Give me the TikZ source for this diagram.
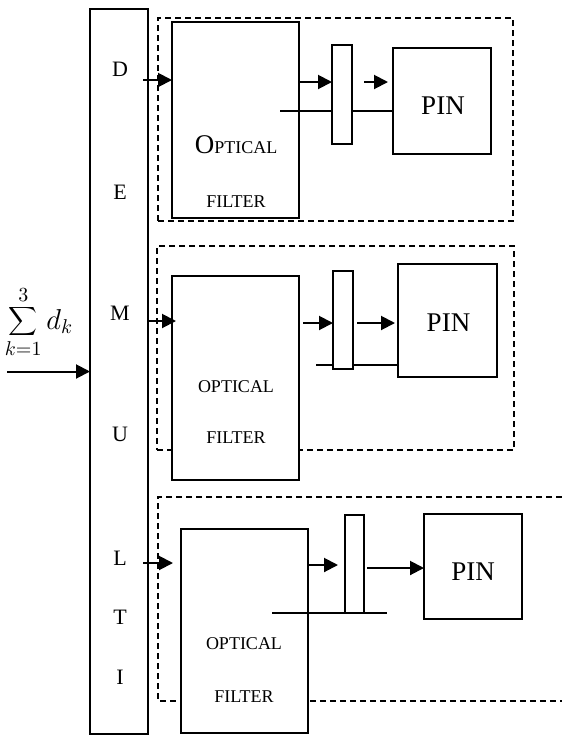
\documentclass[tikz,border=0pt]{standalone}
\usepackage{fontspec}
\setmainfont{Liberation Serif}
\usetikzlibrary{arrows.meta, fit, calc}

\newcommand{\sctext}[1]{{\fontsize{9}{11}\selectfont #1}}

\begin{document}
\begin{tikzpicture}[
    x=0.5pt, y=-0.5pt,
    line width=1pt,
    font=\fontsize{13.5}{16}\selectfont,
    blk/.style={draw, fill=white, inner sep=0pt, outer sep=0pt},
    dbox/.style={draw, dash pattern=on 3pt off 2pt, inner sep=0pt},
    letter/.style={font=\fontsize{11}{13}\selectfont},
    arr/.style={-{Triangle[length=7pt,width=7pt]}}
  ]
  \useasboundingbox (0,0) rectangle (562,735);

  % demultiplexer
  \node[blk, fit={(90,9) (148,734)}] (demux) {};
  \foreach \ch/\yy in {D/69, E/192, M/313, U/434, L/558, T/617, I/677}
    \node[letter] (l\ch) at (120,\yy) {\ch};

  % input
  \node[font=\fontsize{14.5}{17}\selectfont] (sum) at (39,322) {$\displaystyle\sum_{k=1}^{3} d_k$};
  \coordinate (in) at (7,371.5);
  \draw[arr] (in) -- (demux.west);

  % dashed channel boxes
  \node[dbox, fit={(158,18) (513,221)}] (g1) {};
  \node[dbox, fit={(157,246) (514,450)}] (g2) {};
  \draw[dash pattern=on 3pt off 2pt] (562,497) -- (158,497) -- (158,701) -- (562,701);

  % optical filters
  \node[blk, fit={(172,22) (299,218)}] (f1) {};
  \node[blk, fit={(172,276) (299,480)}] (f2) {};
  \node[blk, fit={(181,529) (308,733)}] (f3) {};
  \node (o1) at (236,145) {O\sctext{PTICAL}};
  \node (t1) at (236,202) {\sctext{FILTER}};
  \node (o2) at (236,387) {\sctext{OPTICAL}};
  \node (t2) at (236,438) {\sctext{FILTER}};
  \node (o3) at (244,644) {\sctext{OPTICAL}};
  \node (t3) at (244,697) {\sctext{FILTER}};

  % photodiodes
  \node[blk, fit={(393,48) (491,154)}] (p1) {};
  \node[blk, fit={(398,264) (497,377)}] (p2) {};
  \node[blk, fit={(424,514) (522,619)}] (p3) {};
  \node (n1) at ($(p1.center)+(1,5)$) {PIN};
  \node (n2) at ($(p2.center)+(1,2)$) {PIN};
  \node (n3) at ($(p3.center)+(0,5)$) {PIN};

  % bias lines
  \coordinate (w1) at (280,111);
  \coordinate (w2) at (316,365);
  \coordinate (w3) at (272,613);
  \coordinate (w3e) at (387,613);
  \draw (w1) -- (w1 -| p1.west);
  \draw (w2) -- (w2 -| p2.west);
  \draw (w3) -- (w3e);

  % small elements
  \node[blk, fit={(332,45) (352,144)}] (r1) {};
  \node[blk, fit={(333,271) (353,369)}] (r2) {};
  \node[blk, fit={(345,515) (364,613)}] (r3) {};

  % channel 1
  \coordinate (a1) at (143,80);
  \coordinate (b1) at (299,82);
  \draw[arr] (a1) -- (a1 -| f1.west);
  \draw[arr] (b1) -- (b1 -| r1.west);
  \draw[arr, shorten <=6pt, shorten >=2.5pt] (b1 -| r1.east) -- (b1 -| p1.west);

  % channel 2
  \coordinate (a2) at (148,321);
  \coordinate (b2) at (299,323);
  \draw[arr, shorten >=-2pt] (a2) -- (a2 -| f2.west);
  \draw[arr, shorten <=2pt] (b2) -- (b2 -| r2.west);
  \draw[arr, shorten <=2pt, shorten >=1.5pt] (b2 -| r2.east) -- (b2 -| p2.west);

  % channel 3
  \coordinate (a3) at (143,563);
  \coordinate (b3) at (308,565);
  \coordinate (c3) at (364,568);
  \draw[arr, shorten >=4pt] (a3) -- (a3 -| f3.west);
  \draw[arr, shorten >=3.5pt] (b3) -- (b3 -| r3.west);
  \draw[arr, shorten <=1.5pt] (c3) -- (c3 -| p3.west);
\end{tikzpicture}
\end{document}
